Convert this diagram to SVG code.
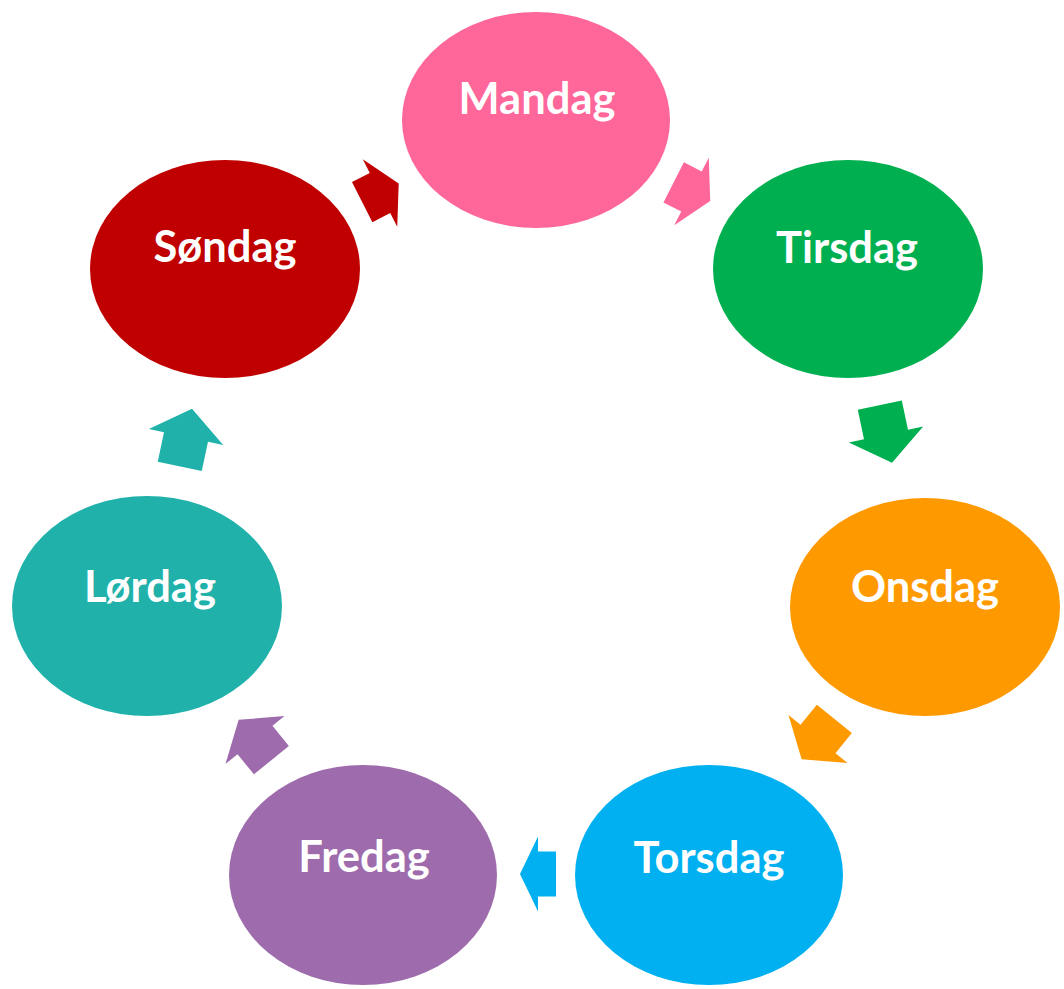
<svg xmlns="http://www.w3.org/2000/svg" width="1064" height="989" viewBox="0 0 1064 989">
<style>
.lbl{font-family:Lato,"Open Sans","Liberation Sans",sans-serif;font-weight:bold;font-size:43.5px;fill:#ffffff;text-anchor:middle}
</style>
<rect width="1064" height="989" fill="#ffffff"/>
<g id="connectors">
<path fill="#FF6699" transform="translate(691.5,191.5) rotate(27)" d="M-20,-22.5 H0 V-38 L21,0 L0,38 V22.5 H-20 Z"/>
<path fill="#00B050" transform="translate(886,434.5) rotate(78)" d="M-30,-22.5 H0 V-38 L29,0 L0,38 V22.5 H-30 Z"/>
<path fill="#FF9900" transform="translate(818,739) rotate(129)" d="M-26,-22.5 H0 V-38 L26,0 L0,38 V22.5 H-26 Z"/>
<path fill="#00B0F0" transform="translate(538,874) rotate(180)" d="M-18,-22.5 H0 V-37.5 L18,0 L0,37.5 V22.5 H-18 Z"/>
<path fill="#9E6CAD" transform="translate(255,740) rotate(-129)" d="M-26,-22.5 H0 V-38 L26,0 L0,38 V22.5 H-26 Z"/>
<path fill="#20B2AA" transform="translate(186,437) rotate(-78)" d="M-30,-22.5 H0 V-38 L29,0 L0,38 V22.5 H-30 Z"/>
<path fill="#C00000" transform="translate(380,193) rotate(-27)" d="M-20,-22.5 H0 V-38 L21,0 L0,38 V22.5 H-20 Z"/>
</g>
<g id="mandag"><ellipse cx="536" cy="120" rx="134" ry="108" fill="#FF6699"/><text class="lbl" x="537" y="114">Mandag</text></g>
<g id="tirsdag"><ellipse cx="848" cy="269" rx="135" ry="109" fill="#00B050"/><text class="lbl" x="847" y="263">Tirsdag</text></g>
<g id="onsdag"><ellipse cx="925" cy="607" rx="135" ry="109" fill="#FF9900"/><text class="lbl" x="925" y="602">Onsdag</text></g>
<g id="torsdag"><ellipse cx="709" cy="875" rx="134" ry="110" fill="#00B0F0"/><text class="lbl" x="709" y="873">Torsdag</text></g>
<g id="fredag"><ellipse cx="363" cy="875" rx="134" ry="110" fill="#9E6CAD"/><text class="lbl" x="364" y="872">Fredag</text></g>
<g id="lordag"><ellipse cx="147" cy="606" rx="135" ry="110" fill="#20B2AA"/><text class="lbl" x="150" y="602">Lørdag</text></g>
<g id="sondag"><ellipse cx="225" cy="269" rx="135" ry="109" fill="#C00000"/><text class="lbl" x="225" y="262">Søndag</text></g>
</svg>
